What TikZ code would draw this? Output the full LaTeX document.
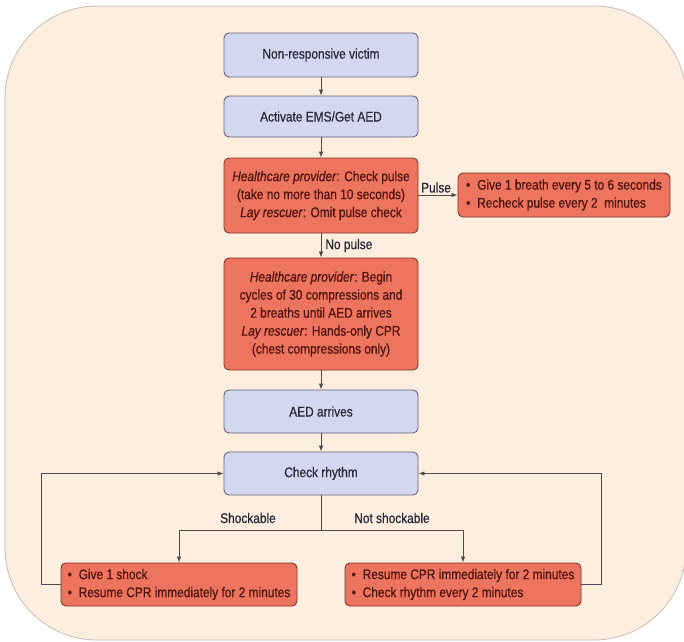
\documentclass[tikz,border=0pt]{standalone}
\usepackage{fontspec}
\setmainfont{Liberation Sans}[FakeStretch=0.85, FakeBold=0.6]
\usetikzlibrary{arrows.meta}

\definecolor{bgpeach}{RGB}{253,238,223}
\definecolor{bgedge}{RGB}{196,188,180}
\definecolor{bluefill}{RGB}{212,215,240}
\definecolor{blueedge}{RGB}{100,100,115}
\definecolor{redfill}{RGB}{237,117,96}
\definecolor{rededge}{RGB}{125,52,38}
\definecolor{redtext}{RGB}{80,18,12}
\definecolor{bluetext}{RGB}{40,40,55}
\definecolor{linegray}{RGB}{80,75,75}

\tikzset{
  box/.style={rounded corners=5pt, line width=0.9pt, inner sep=0pt,
    align=center, font=\fontsize{14}{18}\selectfont},
  bluebox/.style={box, fill=bluefill, draw=blueedge, text=bluetext,
    minimum width=194pt},
  redbox/.style={box, fill=redfill, draw=rededge, text=redtext,
    minimum width=194pt},
  listbox/.style={box, fill=redfill, draw=rededge, text=redtext,
    align=left},
  flow/.style={draw=linegray, line width=0.8pt,
    -{Latex[length=6pt,width=4.5pt]}},
  plain/.style={draw=linegray, line width=0.8pt},
  lbl/.style={text=bluetext, inner sep=2pt,
    font=\fontsize{14}{16}\selectfont},
}
\newcommand{\itemdot}{\makebox[11pt][l]{\textbullet}}

\begin{document}
\begin{tikzpicture}[x=1pt, y=-1pt]
  \useasboundingbox (0,0) rectangle (684,641);
  % rounded backdrop
  \draw[fill=bgpeach, draw=bgedge, line width=0.8pt, rounded corners=92pt]
    (5,6) rectangle (686,640);

  % main column
  \node[bluebox, minimum height=44pt] (victim) at (321,55) {Non-responsive victim};
  \node[bluebox, minimum height=41pt] (ems) at (321,116.5) {Activate EMS/Get AED};
  \node[redbox, minimum height=75pt] (pulsechk) at (321,195.5)
    {\textit{Healthcare provider}: Check pulse\\(take no more than 10 seconds)\\\textit{Lay rescuer}: Omit pulse check};
  \node[listbox, minimum width=212pt, minimum height=44pt] (breath) at (564,195)
    {\itemdot Give 1 breath every 5 to 6 seconds\\\itemdot Recheck pulse every 2~ minutes};
  \node[redbox, minimum height=112pt] (cpr) at (321,314)
    {\textit{Healthcare provider}: Begin\\cycles of 30 compressions and\\2 breaths until AED arrives\\\textit{Lay rescuer}: Hands-only CPR\\(chest compressions only)};
  \node[bluebox, minimum height=43pt] (aed) at (321,411.5) {AED arrives};
  \node[bluebox, minimum height=43pt] (rhythm) at (321,473.5) {Check rhythm};

  % branch outcomes
  \node[listbox, minimum width=236pt, minimum height=43pt] (shock) at (179,584.5)
    {\itemdot Give 1 shock\\\itemdot Resume CPR immediately for 2 minutes};
  \node[listbox, minimum width=236pt, minimum height=43pt] (noshock) at (463,584.5)
    {\itemdot Resume CPR immediately for 2 minutes\\\itemdot Check rhythm every 2 minutes};

  % connectors
  \draw[flow] (victim) -- (ems);
  \draw[flow] (ems) -- (pulsechk);
  \draw[flow] (pulsechk.east |- breath.west) -- node[lbl, above, pos=0.45] {Pulse} (breath.west);
  \draw[flow] (pulsechk) -- node[lbl, right, pos=0.5, xshift=2pt] {No pulse} (cpr);
  \draw[flow] (cpr) -- (aed);
  \draw[flow] (aed) -- (rhythm);

  \coordinate (split) at (321,530);
  \draw[plain] (rhythm.south) -- (split);
  \draw[flow] (split) -| (shock.north);
  \draw[flow] (split) -| (noshock.north);
  \node[lbl] (shocklbl) at (248,518) {Shockable};
  \node[lbl] (noshocklbl) at (392,518) {Not shockable};

  % return loops to rhythm check
  \draw[flow] (shock.west) -- ++(-19,0) |- (rhythm.west);
  \draw[flow] (noshock.east) -- ++(20,0) |- (rhythm.east);
\end{tikzpicture}
\end{document}
